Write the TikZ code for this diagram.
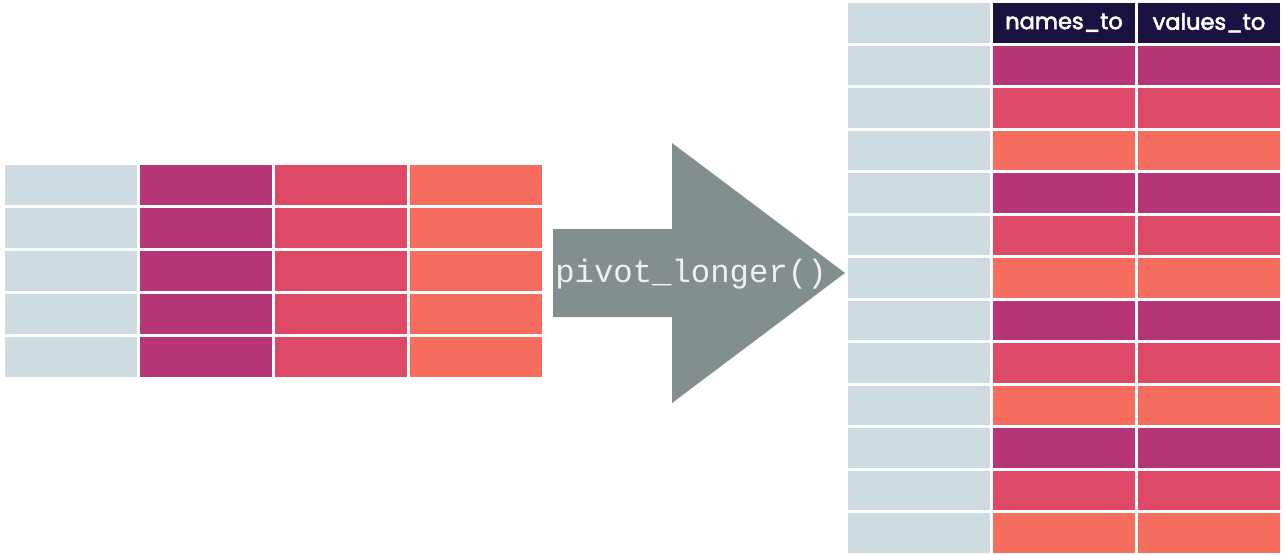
\documentclass[tikz,border=0pt]{standalone}
\usepackage{fontspec}
\setmainfont{Poppins}
\newfontfamily\headfont[FakeBold=2.5]{Poppins}
\newfontfamily\codefont{Liberation Mono}
\definecolor{idgrey}{HTML}{CEDCE2}
\definecolor{cmag}{HTML}{B53577}
\definecolor{cred}{HTML}{DE4968}
\definecolor{cora}{HTML}{F66C5E}
\definecolor{navy}{HTML}{1A1240}
\definecolor{arrowgrey}{HTML}{838E91}
\begin{document}
\begin{tikzpicture}[x=1pt,y=-1pt,
  cell/.style={draw=none,inner sep=0pt,outer sep=0pt,anchor=north west,minimum height=39.5pt},
  lcell/.style={cell,minimum width=132pt},
  rcell/.style={cell,minimum width=142pt},
  head/.style={rcell,fill=navy,text=white,font=\headfont\fontsize{22.5}{25}\selectfont},
  code/.style={text=white!94!black,font=\codefont\fontsize{32.3}{35}\selectfont,inner sep=0pt}]
\useasboundingbox (0,0) rectangle (1284,554);
% left table
\foreach \r in {0,...,4}{
  \node[lcell,fill=idgrey] (L-\r-0) at (5,165+43*\r) {};
  \node[lcell,fill=cmag] (L-\r-1) at (140,165+43*\r) {};
  \node[lcell,fill=cred] (L-\r-2) at (275,165+43*\r) {};
  \node[lcell,fill=cora] (L-\r-3) at (410,165+43*\r) {};
}
% arrow
\fill[arrowgrey] (553,229) -- (672,229) -- (672,143) -- (845,273) -- (672,403) -- (672,317) -- (553,317) -- cycle;
\node[code] (fn) at (691,274) {pivot\_longer()};
% right table header
\node[rcell,fill=idgrey] (R-0-0) at (848,3) {};
\node[head] (R-0-1) at (993,3) {names\_to};
\node[head] (R-0-2) at (1138,3) {values\_to};
% right table body
\foreach \r [evaluate=\r as \m using {int(mod(\r-1,3))}] in {1,...,12}{
  \ifcase\m \def\cc{cmag}\or \def\cc{cred}\else \def\cc{cora}\fi
  \node[rcell,fill=idgrey] (R-\r-0) at (848,3+42.5*\r) {};
  \node[rcell,fill=\cc] (R-\r-1) at (993,3+42.5*\r) {};
  \node[rcell,fill=\cc] (R-\r-2) at (1138,3+42.5*\r) {};
}
\end{tikzpicture}
\end{document}
